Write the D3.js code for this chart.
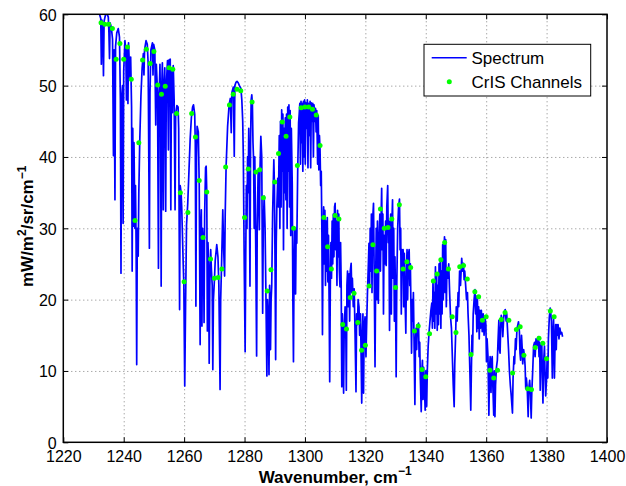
<!DOCTYPE html>
<html>
<head>
<meta charset="utf-8">
<script src="https://cdn.jsdelivr.net/npm/d3@7"></script>
<style>
  body { margin: 0; background: #fff; }
  svg text { font-family: "Liberation Sans", Arial, Helvetica, sans-serif; fill: #000; }
  .grid line { stroke: #666; stroke-dasharray: 1,3; stroke-width: 0.8; }
  .grid path { display: none; }
  .axis path { display: none; }
  .axis line { stroke: #000; stroke-width: 1; }
</style>
</head>
<body>
<div id="chart"></div>
<script>
var svgWidth = 626;
var svgHeight = 486;

var margin = {
  top: 14.3,
  right: 19,
  bottom: 43.7,
  left: 63.3
};

var width = svgWidth - margin.left - margin.right;
var height = svgHeight - margin.top - margin.bottom;

// axis ticks
var xTicks = [1220, 1240, 1260, 1280, 1300, 1320, 1340, 1360, 1380, 1400];
var yTicks = [0, 10, 20, 30, 40, 50, 60];

// high resolution spectrum: [wavenumber, radiance]
var spectrum = [
  [1229.9,60.6],[1230.4,61.2],[1231.0,61.0],[1231.5,60.4],[1232.0,60.0],[1232.4,59.4],[1232.6,53.0],[1232.8,59.2],
  [1233.1,57.0],[1233.3,51.4],[1233.5,59.0],[1233.9,59.8],[1234.4,60.2],[1234.9,59.6],[1235.1,57.5],[1235.3,53.8],
  [1235.5,58.8],[1235.9,58.2],[1236.3,56.5],[1236.6,40.2],[1236.8,55.0],[1237.1,34.0],[1237.3,55.5],[1237.7,57.4],
  [1238.2,58.0],[1238.6,56.8],[1238.9,48.0],[1239.1,23.7],[1239.3,48.0],[1239.6,50.0],[1239.8,30.7],[1240.0,52.0],
  [1240.4,56.3],[1240.7,55.0],[1240.9,48.0],[1241.1,55.5],[1241.4,47.5],[1241.6,56.0],[1241.9,52.5],[1242.1,51.0],
  [1242.3,54.0],[1242.6,47.0],[1242.8,24.0],[1243.0,44.0],[1243.2,30.3],[1243.4,42.0],[1243.7,30.0],[1243.9,36.0],
  [1244.1,28.0],[1244.3,10.9],[1244.5,30.0],[1244.8,26.1],[1245.0,35.0],[1245.3,42.0],[1245.7,48.5],[1246.1,52.5],
  [1246.5,54.5],[1246.7,51.5],[1246.9,55.0],[1247.4,56.3],[1247.8,55.8],[1248.1,53.0],[1248.5,27.2],[1248.7,49.0],
  [1249.0,55.0],[1249.5,56.0],[1249.7,51.5],[1249.9,55.8],[1250.3,55.0],[1250.6,44.5],[1250.8,53.0],[1251.2,49.0],
  [1251.5,24.4],[1251.7,48.0],[1252.0,53.0],[1252.2,46.0],[1252.4,21.9],[1252.6,50.0],[1252.8,53.2],[1253.1,32.6],
  [1253.3,50.0],[1253.6,52.5],[1253.9,32.4],[1254.1,50.0],[1254.5,53.5],[1254.8,41.0],[1255.0,53.6],[1255.4,53.7],
  [1255.6,32.6],[1255.8,52.0],[1256.1,46.2],[1256.4,52.8],[1256.7,48.0],[1257.0,32.6],[1257.2,46.0],[1257.6,47.2],
  [1258.0,47.0],[1258.2,44.0],[1258.5,18.6],[1258.7,36.0],[1259.0,35.0],[1259.2,33.0],[1259.4,29.8],[1259.7,25.0],
  [1259.9,22.3],[1260.2,7.9],[1260.5,20.0],[1260.8,30.5],[1261.2,33.5],[1261.6,38.0],[1262.0,42.5],[1262.4,45.5],
  [1262.8,47.0],[1263.1,47.3],[1263.5,46.0],[1263.7,42.0],[1263.9,19.1],[1264.1,40.0],[1264.3,44.3],[1264.7,43.5],
  [1265.0,36.0],[1265.3,13.7],[1265.5,30.0],[1265.7,32.6],[1265.9,16.3],[1266.1,30.0],[1266.4,28.0],[1266.6,16.8],
  [1266.8,32.0],[1267.1,38.5],[1267.3,38.7],[1267.5,35.0],[1267.7,15.6],[1267.9,28.0],[1268.1,25.0],[1268.3,11.1],
  [1268.5,22.0],[1268.8,27.0],[1269.0,24.5],[1269.3,22.0],[1269.5,10.2],[1269.7,20.0],[1270.0,22.5],[1270.3,25.5],
  [1270.8,27.7],[1271.2,26.0],[1271.5,22.0],[1271.9,7.4],[1272.1,20.0],[1272.4,25.0],[1272.8,32.6],[1273.1,27.0],
  [1273.4,23.3],[1273.6,32.0],[1273.9,38.7],[1274.4,44.3],[1274.9,47.3],[1275.3,48.2],[1275.6,43.4],[1275.8,49.0],
  [1276.3,49.8],[1276.6,40.1],[1276.8,50.0],[1277.2,50.5],[1277.5,50.6],[1277.9,50.4],[1278.3,50.0],[1278.8,49.6],
  [1279.1,48.0],[1279.4,45.0],[1279.6,40.0],[1279.9,25.0],[1280.2,12.7],[1280.4,26.0],[1280.6,36.0],[1280.8,30.0],
  [1281.0,40.0],[1281.2,35.0],[1281.4,44.0],[1281.6,35.4],[1281.8,21.9],[1282.0,42.0],[1282.2,48.0],[1282.4,48.7],
  [1282.6,47.5],[1282.8,42.0],[1283.0,39.6],[1283.2,30.0],[1283.4,40.0],[1283.7,27.9],[1284.0,12.1],[1284.2,30.0],
  [1284.5,38.0],[1284.7,35.9],[1284.9,29.8],[1285.1,38.0],[1285.4,42.9],[1285.7,40.0],[1286.0,18.1],[1286.2,30.0],
  [1286.5,34.5],[1286.8,30.0],[1287.1,20.0],[1287.4,9.3],[1287.6,20.0],[1287.9,17.0],[1288.1,9.5],[1288.3,22.0],
  [1288.6,13.0],[1288.8,20.0],[1289.0,21.9],[1289.3,32.0],[1289.7,39.6],[1289.9,36.0],[1290.1,25.0],[1290.3,11.6],
  [1290.5,28.0],[1290.7,33.0],[1291.0,37.0],[1291.2,33.0],[1291.5,43.0],[1291.7,30.0],[1291.9,45.0],[1292.1,33.0],
  [1292.3,46.6],[1292.5,38.0],[1292.7,46.0],[1292.9,27.0],[1293.1,44.0],[1293.3,35.0],[1293.5,45.5],[1293.7,34.0],
  [1293.9,46.0],[1294.1,30.0],[1294.3,47.0],[1294.5,38.0],[1294.7,47.3],[1294.9,33.0],[1295.1,46.5],[1295.3,29.0],
  [1295.5,44.0],[1295.8,36.0],[1296.0,20.0],[1296.2,11.3],[1296.4,25.0],[1296.6,30.0],[1296.9,20.8],[1297.1,30.0],
  [1297.3,27.9],[1297.6,38.0],[1297.9,44.8],[1298.1,46.0],[1298.3,47.5],[1298.5,39.0],[1298.7,47.8],[1298.9,42.0],
  [1299.1,47.5],[1299.3,38.0],[1299.5,47.8],[1299.7,40.0],[1299.9,48.0],[1300.1,39.0],[1300.3,47.6],[1300.6,44.0],
  [1300.8,48.0],[1301.0,38.5],[1301.2,47.5],[1301.5,43.0],[1301.7,47.8],[1301.9,38.5],[1302.1,47.6],[1302.4,45.0],
  [1302.6,47.5],[1302.8,40.0],[1303.0,47.3],[1303.3,45.0],[1303.5,46.8],[1303.7,43.5],[1303.9,46.5],[1304.2,39.0],
  [1304.4,45.8],[1304.6,38.2],[1304.8,43.0],[1305.0,41.0],[1305.2,36.0],[1305.4,38.0],[1305.6,30.0],[1305.8,15.1],
  [1306.0,28.0],[1306.2,33.0],[1306.4,25.0],[1306.6,32.5],[1306.8,22.0],[1307.0,31.0],[1307.2,24.0],[1307.4,31.5],
  [1307.6,22.5],[1307.8,29.0],[1308.0,20.0],[1308.2,8.5],[1308.4,22.0],[1308.6,28.0],[1308.8,23.0],[1309.0,31.0],
  [1309.2,25.0],[1309.4,32.0],[1309.6,26.0],[1309.8,33.0],[1310.0,33.5],[1310.2,27.0],[1310.4,31.0],[1310.6,22.0],
  [1310.8,32.5],[1311.0,26.0],[1311.2,32.0],[1311.4,24.0],[1311.6,21.8],[1311.8,28.0],[1312.0,22.0],[1312.2,7.8],
  [1312.4,18.0],[1312.6,14.0],[1312.8,6.9],[1313.0,16.0],[1313.3,19.0],[1313.5,17.0],[1313.7,7.3],[1313.9,22.0],
  [1314.1,24.0],[1314.3,19.0],[1314.6,23.6],[1314.8,17.0],[1315.0,24.0],[1315.3,25.1],[1315.5,21.0],[1315.7,23.0],
  [1316.0,19.0],[1316.3,21.5],[1316.6,15.0],[1316.9,7.1],[1317.1,18.0],[1317.4,16.5],[1317.6,20.0],[1317.9,19.0],
  [1318.1,15.0],[1318.4,18.0],[1318.6,12.0],[1318.8,5.5],[1319.0,15.0],[1319.2,18.0],[1319.4,6.9],[1319.6,16.0],
  [1319.9,17.6],[1320.2,12.0],[1320.4,16.0],[1320.7,21.0],[1321.0,25.0],[1321.2,27.9],[1321.4,22.0],[1321.6,30.0],
  [1321.8,24.0],[1322.0,32.0],[1322.2,21.0],[1322.4,31.0],[1322.7,33.5],[1322.9,25.0],[1323.2,10.6],[1323.4,22.0],
  [1323.6,30.0],[1323.8,20.0],[1324.0,31.0],[1324.3,19.5],[1324.5,28.0],[1324.8,32.0],[1325.0,24.0],[1325.2,31.0],
  [1325.4,35.6],[1325.6,27.0],[1325.8,32.0],[1326.0,18.0],[1326.2,29.0],[1326.5,25.0],[1326.7,31.0],[1326.9,24.8],
  [1327.1,33.0],[1327.4,36.0],[1327.6,28.0],[1327.8,31.0],[1328.0,15.7],[1328.2,26.0],[1328.4,32.0],[1328.6,18.0],
  [1328.8,31.0],[1329.0,34.0],[1329.2,23.0],[1329.4,30.0],[1329.6,17.0],[1329.8,26.0],[1330.0,20.0],[1330.2,9.2],
  [1330.4,22.0],[1330.7,30.0],[1331.0,33.0],[1331.3,34.1],[1331.5,27.0],[1331.7,30.0],[1331.9,18.0],[1332.1,27.0],
  [1332.3,24.0],[1332.5,27.0],[1332.7,19.0],[1332.9,26.5],[1333.1,21.0],[1333.4,15.3],[1333.6,24.0],[1333.8,27.0],
  [1334.0,20.0],[1334.2,26.0],[1334.5,27.0],[1334.7,22.0],[1334.9,25.0],[1335.1,19.0],[1335.3,12.5],[1335.5,20.0],
  [1335.7,17.0],[1335.9,21.0],[1336.1,15.0],[1336.4,5.3],[1336.6,14.0],[1336.8,16.0],[1337.0,13.0],[1337.2,16.5],
  [1337.4,15.0],[1337.6,16.7],[1337.8,12.0],[1338.0,14.0],[1338.2,9.0],[1338.5,4.3],[1338.7,10.0],[1338.9,11.5],
  [1339.1,6.0],[1339.3,10.5],[1339.5,8.5],[1339.8,4.5],[1340.0,10.0],[1340.3,5.0],[1340.5,10.0],[1340.8,13.5],
  [1341.1,15.5],[1341.4,17.0],[1341.7,18.5],[1342.0,19.5],[1342.2,16.0],[1342.4,22.8],[1342.6,17.0],[1342.8,21.0],
  [1343.0,16.0],[1343.2,24.6],[1343.4,18.0],[1343.6,23.5],[1343.8,15.7],[1344.0,22.0],[1344.2,16.5],[1344.4,25.0],
  [1344.6,18.0],[1344.8,25.6],[1345.0,16.0],[1345.2,24.0],[1345.4,18.0],[1345.6,27.7],[1345.8,20.0],[1346.0,26.5],
  [1346.2,28.8],[1346.4,21.0],[1346.6,28.4],[1346.8,19.0],[1347.0,24.0],[1347.3,23.0],[1347.6,25.0],[1347.9,21.0],
  [1348.2,17.6],[1348.5,16.0],[1348.8,12.0],[1349.1,8.0],[1349.4,5.0],[1349.6,11.0],[1349.9,15.3],[1350.1,19.0],
  [1350.4,17.0],[1350.7,21.0],[1350.9,19.0],[1351.2,24.0],[1351.5,22.0],[1351.9,25.8],[1352.2,24.0],[1352.5,25.1],
  [1352.7,22.8],[1352.9,24.0],[1353.2,22.0],[1353.5,20.0],[1353.8,21.0],[1354.0,18.0],[1354.3,15.0],[1354.6,10.0],
  [1354.9,4.5],[1355.1,10.0],[1355.3,15.0],[1355.5,12.5],[1355.7,18.0],[1356.0,20.0],[1356.3,21.4],[1356.5,18.0],
  [1356.7,20.5],[1356.9,15.5],[1357.1,20.0],[1357.3,16.0],[1357.5,19.0],[1357.7,14.5],[1357.9,18.5],[1358.1,16.0],
  [1358.4,18.5],[1358.7,15.5],[1359.0,18.0],[1359.3,15.0],[1359.6,17.5],[1359.9,16.5],[1360.1,11.3],[1360.3,14.5],
  [1360.6,12.0],[1360.9,3.8],[1361.1,10.0],[1361.3,12.0],[1361.6,7.0],[1361.8,11.5],[1362.0,12.0],[1362.2,8.0],
  [1362.5,3.8],[1362.7,10.0],[1362.9,3.6],[1363.1,8.0],[1363.4,10.5],[1363.7,11.5],[1363.9,14.0],[1364.2,17.1],
  [1364.4,13.0],[1364.6,12.5],[1364.8,16.0],[1365.0,17.8],[1365.3,17.0],[1365.5,14.8],[1365.8,17.5],[1366.0,18.2],
  [1366.3,18.6],[1366.6,17.0],[1366.8,18.0],[1367.1,15.5],[1367.4,13.0],[1367.7,10.0],[1368.0,8.0],[1368.3,6.5],
  [1368.7,4.1],[1368.9,9.0],[1369.2,12.0],[1369.4,11.0],[1369.7,14.5],[1369.9,13.0],[1370.2,16.0],[1370.5,16.5],
  [1370.7,16.9],[1371.0,15.5],[1371.2,12.5],[1371.4,11.5],[1371.7,15.0],[1371.9,13.4],[1372.1,11.0],[1372.4,13.0],
  [1372.7,12.0],[1372.9,10.6],[1373.1,7.5],[1373.3,9.0],[1373.6,7.5],[1373.9,3.6],[1374.1,7.5],[1374.4,8.7],
  [1374.6,7.3],[1374.9,3.4],[1375.1,7.0],[1375.4,10.0],[1375.7,13.5],[1376.0,14.0],[1376.2,12.0],[1376.5,14.5],
  [1376.8,13.5],[1377.1,14.5],[1377.3,14.8],[1377.5,12.0],[1377.7,14.0],[1377.9,7.3],[1378.1,13.0],[1378.4,14.0],
  [1378.6,9.0],[1378.8,5.5],[1379.0,11.0],[1379.3,13.5],[1379.5,9.5],[1379.7,6.5],[1380.0,9.0],[1380.2,12.0],
  [1380.4,9.0],[1380.6,14.5],[1380.9,17.5],[1381.2,18.8],[1381.4,18.0],[1381.6,17.0],[1381.9,9.0],[1382.1,15.0],
  [1382.3,17.5],[1382.6,9.0],[1382.8,14.0],[1383.0,16.5],[1383.2,13.0],[1383.4,16.5],[1383.6,15.0],[1383.8,16.5],
  [1384.1,14.5],[1384.4,16.0],[1384.7,15.2],[1385.0,15.4],[1385.3,14.8]
];

// CrIS channel centres and radiances
var channelWn = [
  1232.5, 1233.75, 1235, 1236.25, 1237.5, 1238.75, 1240, 1241.25, 1242.5, 1243.75,
  1245, 1246.25, 1247.5, 1248.75, 1250, 1251.25, 1252.5, 1253.75, 1255, 1256.25,
  1257.5, 1258.75, 1260, 1261.25, 1262.5, 1263.75, 1265, 1266.25, 1267.5, 1268.75,
  1270, 1271.25, 1272.5, 1273.75, 1275, 1276.25, 1277.5, 1278.75, 1280, 1281.25,
  1282.5, 1283.75, 1285, 1286.25, 1287.5, 1288.75, 1290, 1291.25, 1292.5, 1293.75,
  1295, 1296.25, 1297.5, 1298.75, 1300, 1301.25, 1302.5, 1303.75, 1305, 1306.25,
  1307.5, 1308.75, 1310, 1311.25, 1312.5, 1313.75, 1315, 1316.25, 1317.5, 1318.75,
  1320, 1321.25, 1322.5, 1323.75, 1325, 1326.25, 1327.5, 1328.75, 1330, 1331.25,
  1332.5, 1333.75, 1335, 1336.25, 1337.5, 1338.75, 1340, 1341.25, 1342.5, 1343.75,
  1345, 1346.25, 1347.5, 1348.75, 1350, 1351.25, 1352.5, 1353.75, 1355, 1356.25,
  1357.5, 1358.75, 1360, 1361.25, 1362.5, 1363.75, 1365, 1366.25, 1367.5, 1368.75,
  1370, 1371.25, 1372.5, 1373.75, 1375, 1376.25, 1377.5, 1378.75, 1380, 1381.25,
  1382.5
];
var channelRad = [
  58.8, 58.6, 58.6, 58.0, 53.7, 55.9, 53.7, 55.4, 50.9, 31.1,
  42.0, 53.6, 55.1, 53.1, 54.8, 50.1, 48.8, 49.9, 52.5, 52.3,
  46.1, 35.0, 22.5, 32.2, 46.1, 42.8, 36.7, 28.7, 35.1, 25.7,
  23.0, 23.1, 24.3, 38.6, 47.3, 48.8, 49.5, 49.3, 31.5, 38.3,
  47.7, 37.9, 38.2, 34.3, 21.2, 24.2, 36.5, 40.5, 44.9, 42.9,
  45.6, 30.0, 38.8, 46.9, 47.0, 47.0, 46.7, 45.9, 41.6, 31.5,
  27.4, 24.3, 31.8, 31.3, 16.5, 15.9, 20.3, 20.9, 16.8, 12.9,
  13.6, 21.9, 27.7, 24.0, 32.7, 30.0, 30.1, 31.3, 21.7, 33.3,
  24.3, 25.3, 24.5, 15.6, 16.3, 10.2, 9.2, 15.2, 22.6, 23.6,
  25.6, 28.0, 24.3, 17.6, 15.4, 24.6, 24.8, 22.9, 12.3, 21.1,
  20.4, 17.1, 17.6, 10.1, 9.0, 10.1, 17.2, 18.2, 17.1, 9.7,
  15.8, 16.2, 12.2, 7.5, 7.4, 13.3, 14.6, 13.9, 11.7, 18.4,
  17.6
];

var legendLabels = ["Spectrum", "CrIS Channels"];

var svg = d3
  .select("#chart")
  .append("svg")
  .attr("width", svgWidth)
  .attr("height", svgHeight);

var chartGroup = svg.append("g")
  .attr("transform", `translate(${margin.left}, ${margin.top})`);

var xLinearScale = d3.scaleLinear().domain([1220, 1400]).range([0, width]);
var yLinearScale = d3.scaleLinear().domain([0, 60]).range([height, 0]);

// dotted grid
chartGroup.append("g")
  .attr("class", "grid")
  .attr("transform", `translate(0, ${height})`)
  .call(d3.axisBottom(xLinearScale).tickValues(xTicks.slice(1, -1)).tickSize(-height).tickFormat(""));

chartGroup.append("g")
  .attr("class", "grid")
  .call(d3.axisLeft(yLinearScale).tickValues(yTicks.slice(1, -1)).tickSize(-width).tickFormat(""));

// clip the spectrum to the axes box
svg.append("defs").append("clipPath")
  .attr("id", "plotClip")
  .append("rect")
  .attr("width", width)
  .attr("height", height);

var line = d3.line()
  .x(d => xLinearScale(d[0]))
  .y(d => yLinearScale(d[1]));

chartGroup.append("path")
  .datum(spectrum)
  .attr("clip-path", "url(#plotClip)")
  .attr("fill", "none")
  .attr("stroke", "#0000ff")
  .attr("stroke-width", 1.7)
  .attr("stroke-linejoin", "round")
  .attr("d", line);

// channel dots
chartGroup.append("g")
  .selectAll("circle")
  .data(channelWn)
  .enter()
  .append("circle")
  .attr("cx", d => xLinearScale(d))
  .attr("cy", (d, i) => yLinearScale(channelRad[i]))
  .attr("r", 2.5)
  .attr("fill", "#00ff00");

// axes (ticks pointing inwards, matlab style)
var bottomAxis = chartGroup.append("g")
  .attr("class", "axis")
  .attr("transform", `translate(0, ${height})`)
  .call(d3.axisBottom(xLinearScale).tickValues(xTicks).tickSize(-5).tickFormat(d3.format("d")));
bottomAxis.selectAll("text")
  .attr("y", 20)
  .attr("dy", 0)
  .style("font-size", "16px");

var leftAxis = chartGroup.append("g")
  .attr("class", "axis")
  .call(d3.axisLeft(yLinearScale).tickValues(yTicks).tickSize(-5).tickPadding(6.6).tickFormat(d3.format("d")));
leftAxis.selectAll("text")
  .attr("dy", "0.36em")
  .style("font-size", "16px");

chartGroup.append("g")
  .attr("class", "axis")
  .call(d3.axisTop(xLinearScale).tickValues(xTicks).tickSize(-5).tickFormat(""));

chartGroup.append("g")
  .attr("class", "axis")
  .attr("transform", `translate(${width}, 0)`)
  .call(d3.axisRight(yLinearScale).tickValues(yTicks).tickSize(-5).tickFormat(""));

// box
chartGroup.append("rect")
  .attr("width", width)
  .attr("height", height)
  .attr("fill", "none")
  .attr("stroke", "#000")
  .attr("stroke-width", 1.5);

// axis labels
var xLabel = svg.append("text")
  .attr("x", margin.left + width / 2)
  .attr("y", 482.5)
  .attr("text-anchor", "middle")
  .style("font-size", "17px")
  .style("font-weight", "bold");
xLabel.append("tspan").text("Wavenumber, cm");
xLabel.append("tspan").attr("dy", -8).style("font-size", "12px").text("\u22121");

var yLabel = svg.append("text")
  .attr("transform", `translate(32.5, ${margin.top + height / 2 - 2}) rotate(-90)`)
  .attr("text-anchor", "middle")
  .style("font-size", "17px")
  .style("font-weight", "bold");
yLabel.append("tspan").text("mW/m");
yLabel.append("tspan").attr("dy", -7).style("font-size", "12px").text("2");
yLabel.append("tspan").attr("dy", 7).text("/sr/cm");
yLabel.append("tspan").attr("dy", -7).style("font-size", "12px").text("\u22121");

// legend
var legend = svg.append("g");
legend.append("rect")
  .attr("x", 424)
  .attr("y", 44.3)
  .attr("width", 166.7)
  .attr("height", 51.7)
  .attr("fill", "#fff")
  .attr("stroke", "#000")
  .attr("stroke-width", 1);

legend.append("line")
  .attr("x1", 431.7)
  .attr("x2", 466.7)
  .attr("y1", 57.7)
  .attr("y2", 57.7)
  .attr("stroke", "#0000ff")
  .attr("stroke-width", 1.5);

legend.append("circle")
  .attr("cx", 449.3)
  .attr("cy", 81.7)
  .attr("r", 2.5)
  .attr("fill", "#00ff00");

legend.selectAll("text")
  .data(legendLabels)
  .enter()
  .append("text")
  .attr("x", 471.5)
  .attr("y", (d, i) => 64 + i * 23.5)
  .style("font-size", "17px")
  .text(d => d);
</script>
</body>
</html>
